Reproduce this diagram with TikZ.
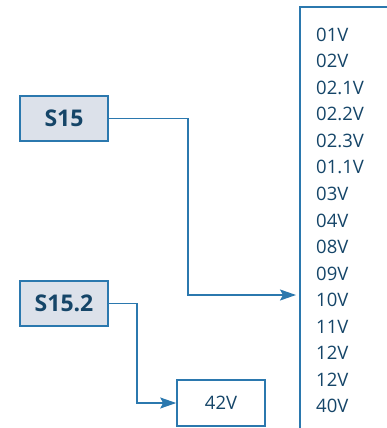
\documentclass[tikz,border=0pt]{standalone}
\usepackage{fontspec}
\setmainfont{Open Sans}
\usetikzlibrary{arrows.meta}
\definecolor{xanhvien}{HTML}{2B78AE}
\definecolor{xanhchu}{HTML}{154568}
\definecolor{nenxam}{HTML}{DCE1EA}
\begin{document}
\begin{tikzpicture}[x=1pt,y=-1pt,
			hopxam/.style={rectangle, draw=xanhvien, line width=1.6pt, fill=nenxam, minimum width=88pt, minimum height=45pt, font=\fontsize{23}{23}\selectfont\bfseries, text=xanhchu},
			hoptrang/.style={rectangle, draw=xanhvien, line width=1.6pt, fill=white, minimum width=88pt, minimum height=46pt, font=\fontsize{18.5}{18.5}\selectfont, text=xanhchu},
			dong/.style={anchor=west, inner sep=0pt, font=\fontsize{18.5}{18.5}\selectfont, text=xanhchu},
			muiten/.style={draw=xanhvien, line width=1.6pt, -{Stealth[length=16pt, width=11pt, inset=3pt]}}]
			\useasboundingbox (0,0) rectangle (387,428);
			%---------------- HOP ----------------
			\node[hopxam] (S15) at (64,118.5) {S15};
			\node[hopxam] (S152) at (64,303.5) {S15.2};
			\node[hoptrang] (V42) at (221,403) {42V};
			%---------------- DANH SACH ----------------
			\draw[draw=xanhvien, line width=1.6pt] (387,7)--(300,7)--(300,428);
			\node[dong] (v1) at (316,34.5) {01V};
			\node[dong] (v2) at (316,61) {02V};
			\node[dong] (v3) at (316,87.6) {02.1V};
			\node[dong] (v4) at (316,114.2) {02.2V};
			\node[dong] (v5) at (316,140.7) {02.3V};
			\node[dong] (v6) at (316,167.3) {01.1V};
			\node[dong] (v7) at (316,193.8) {03V};
			\node[dong] (v8) at (316,220.4) {04V};
			\node[dong] (v9) at (316,246.9) {08V};
			\node[dong] (v10) at (316,273.5) {09V};
			\node[dong] (v11) at (316,300) {10V};
			\node[dong] (v12) at (316,326.6) {11V};
			\node[dong] (v13) at (316,353.1) {12V};
			\node[dong] (v14) at (316,379.7) {12V};
			\node[dong] (v15) at (316,406.2) {40V};
			%---------------- MUI TEN ----------------
			\coordinate (dau10) at (296,295);
			\draw[muiten] (S15.east) -- ++(79,0) |- (dau10);
			\draw[muiten] (S152.east) -- ++(28,0) |- (V42.west);
		\end{tikzpicture}
\end{document}
